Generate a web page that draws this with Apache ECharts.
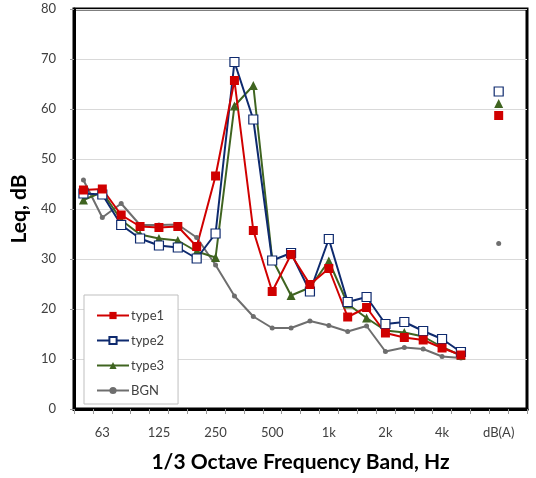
<!DOCTYPE html>
<html><head><meta charset="utf-8">
<script src="https://cdn.jsdelivr.net/npm/echarts@6/dist/echarts.min.js"></script>
<style>html,body{margin:0;padding:0;background:#fff}#c{width:536px;height:478px}</style>
</head><body><div id="c"></div>
<script>
var bands = ['50','63','80','100','125','160','200','250','315','400','500','630','800','1k','1.25k','1.6k','2k','2.5k','3.15k','4k','5k','6.3k','dB(A)','8k'];
var type1 = [43.8,44.0,38.8,36.5,36.3,36.5,32.5,46.6,65.7,35.7,23.5,30.9,24.9,28.1,18.4,20.3,15.2,14.3,13.8,12.2,10.8,null,58.7,null];
var type2 = [43.1,42.9,36.8,34.1,32.7,32.3,30.1,35.1,69.4,57.9,29.7,31.2,23.5,34.0,21.4,22.4,17.0,17.4,15.6,14.0,11.4,null,63.5,null];
var type3 = [41.8,43.4,37.8,34.9,34.1,33.7,31.5,30.3,60.6,64.7,30.0,22.7,24.3,29.6,21.0,18.2,15.7,15.3,14.5,12.4,10.7,null,61.1,null];
var bgn   = [45.8,38.3,41.1,36.8,36.8,36.9,34.3,28.8,22.6,18.5,16.2,16.2,17.6,16.7,15.5,16.6,11.5,12.3,12.0,10.5,10.2,null,33.1,null];
var yTicks = {min:0, max:80, interval:10};

var FONT = 'Lato';
var chart = echarts.init(document.getElementById('c'), null, {renderer:'canvas'});
function ser(name, data, color, symbol, size, fill) {
  return {
    name: name, type: 'line', data: data, symbol: symbol, symbolSize: size,
    lineStyle: {color: color, width: 2},
    itemStyle: {color: fill || color, borderColor: color, borderWidth: fill ? 1.2 : 0},
    showAllSymbol: true, connectNulls: false, animation: false
  };
}
chart.setOption({
  animation: false,
  textStyle: {fontFamily: FONT},
  grid: {left: 74, right: 9, top: 9, bottom: 67, show: true, borderColor: '#000', borderWidth: 3, containLabel: false},
  legend: {
    orient: 'vertical', left: 84, top: 295,
    data: ['type1','type2','type3','BGN'],
    itemWidth: 32, itemHeight: 9, itemGap: 12,
    padding: [14, 14, 7, 12],
    borderColor: '#BFBFBF', borderWidth: 1, backgroundColor: '#fff',
    textStyle: {fontFamily: FONT, fontSize: 13, color: '#404040', padding: [0,0,0,-3]}
  },
  xAxis: {
    type: 'category', data: bands, boundaryGap: true,
    name: '1/3 Octave Frequency Band, Hz', nameLocation: 'middle', nameGap: 43,
    nameTextStyle: {fontFamily: FONT, fontSize: 21, fontWeight: 'bold', color: '#000'},
    axisLine: {show: true, lineStyle: {color: '#000', width: 3}},
    axisTick: {show: true, interval: 0, alignWithLabel: false, length: 5, lineStyle: {color: '#999'}},
    axisLabel: {interval: function(i){ return i % 3 === 1; }, margin: 17, fontSize: 13, color: '#404040', fontFamily: FONT},
    splitLine: {show: false}
  },
  yAxis: {
    type: 'value', min: yTicks.min, max: yTicks.max, interval: yTicks.interval,
    name: 'Leq, dB', nameLocation: 'middle', nameGap: 42,
    nameTextStyle: {fontFamily: FONT, fontSize: 21, fontWeight: 'bold', color: '#000'},
    axisLine: {show: true, lineStyle: {color: '#000', width: 3}},
    axisTick: {show: true, length: 4, lineStyle: {color: '#999'}},
    axisLabel: {margin: 18, fontSize: 13, color: '#404040', fontFamily: FONT},
    splitLine: {show: true, lineStyle: {color: '#D9D9D9', width: 1}}
  },
  series: [
    ser('BGN', bgn, '#6E6E6E', 'circle', 5),
    ser('type3', type3, '#3F6420', 'triangle', 9),
    ser('type2', type2, '#0E2A6E', 'rect', 9, '#ffffff'),
    ser('type1', type1, '#D00000', 'rect', 9)
  ]
});
</script></body></html>
